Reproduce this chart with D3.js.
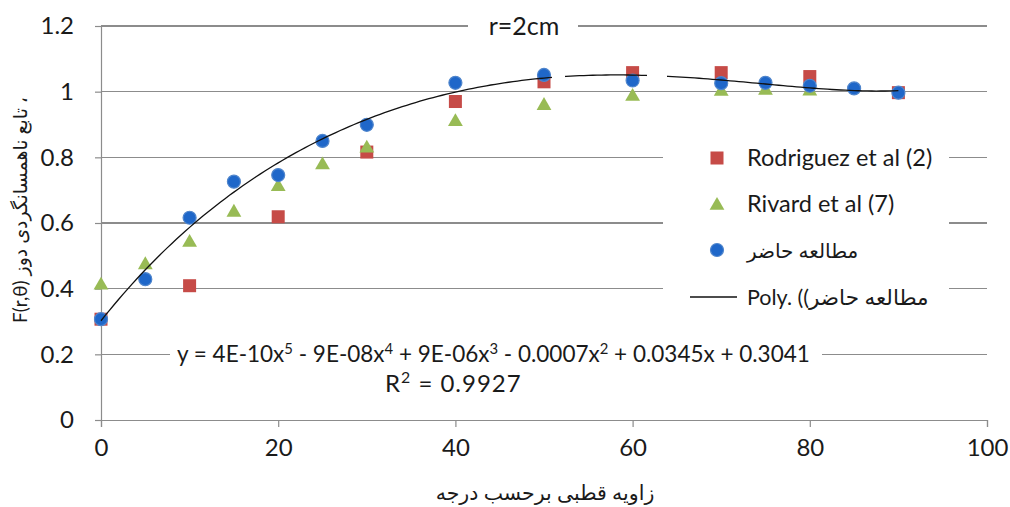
<!DOCTYPE html>
<html><head><meta charset="utf-8">
<script src="https://cdn.jsdelivr.net/npm/d3@7"></script>
<style>
html,body{margin:0;padding:0;background:#fff;}
svg{display:block;}
text{font-family:Lato,"DejaVu Sans",sans-serif;fill:#1a1a1a;}
</style></head>
<body><svg id="chart" width="1010" height="507"></svg>
<script>
// ---- data ----
const presentAngles = [0,5,10,15,20,25,30,40,50,60,70,75,80,85,90];
const presentValues = [0.307,0.429,0.616,0.726,0.746,0.85,0.899,1.027,1.051,1.034,1.026,1.027,1.018,1.010,0.997];
const rodriguezAngles = [0,10,20,30,40,50,60,70,80,90];
const rodriguezValues = [0.307,0.409,0.619,0.816,0.970,1.030,1.058,1.058,1.046,0.997];
const rivardAngles = [0,5,10,15,20,25,30,40,50,60,70,75,80];
const rivardValues = [0.415,0.477,0.545,0.637,0.715,0.781,0.832,0.913,0.962,0.99,1.005,1.008,1.006];
const xTicks = [0,20,40,60,80,100];
const yTicks = [0,0.2,0.4,0.6,0.8,1,1.2];
const yTickLabels = ["0","0.2","0.4","0.6","0.8","1","1.2"];
const seriesNames = ["Rodriguez et al (2)","Rivard et al (7)","مطالعه حاضر","Poly. ((مطالعه حاضر"];
const titleText = "r=2cm";
const xLabel = "زاویه قطبی  برحسب درجه";
const yLabel = "F(r,θ) تابع ناهمسانگردی دوز ،";
// equation pieces: [text, isSuperscript]
const eqParts = [["y = 4E-10x",0],["5",1],[" - 9E-08x",0],["4",1],[" + 9E-06x",0],["3",1],[" - 0.0007x",0],["2",1],[" + 0.0345x + 0.3041",0]];
const r2Parts = [["R",0],["2",1],[" = 0.9927",0]];

// ---- scales ----
const svg = d3.select("#chart");
const x = d3.scaleLinear().domain([0,100]).range([101,987]);
const y = d3.scaleLinear().domain([0,1.2]).range([420,26]);
const gridColor = "#8c8c8c";

// gridlines
svg.append("g").selectAll("line").data(yTicks.slice(1)).join("line")
  .attr("x1", x(0)).attr("x2", x(100))
  .attr("y1", d=>y(d)).attr("y2", d=>y(d))
  .attr("stroke", gridColor).attr("stroke-width",1.2).attr("shape-rendering","crispEdges");

// axes
const xAxis = svg.append("g").attr("transform",`translate(0,${y(0)})`)
  .call(d3.axisBottom(x).tickValues(xTicks).tickSize(7).tickPadding(12).tickFormat(d3.format("d")));
const yAxis = svg.append("g").attr("transform",`translate(${x(0)},0)`)
  .call(d3.axisLeft(y).tickValues(yTicks).tickSize(6).tickPadding(21).tickFormat((d,i)=>yTickLabels[i]));
[xAxis,yAxis].forEach(g=>{
  g.select(".domain").attr("stroke",gridColor).attr("stroke-width",1.2);
  g.selectAll(".tick line").attr("stroke",gridColor).attr("stroke-width",1.2);
  g.selectAll(".tick text").attr("font-family","Lato, sans-serif").attr("font-size",24).attr("fill","#1a1a1a");
});

// white label boxes (cover gridlines like chart text boxes)
function box(x0,y0,w,h){ svg.append("rect").attr("x",x0).attr("y",y0).attr("width",w).attr("height",h).attr("fill","#fff"); }
box(468,8,110,36);      // title
box(663,136,286,176);   // legend
box(170,336,652,66);    // equation

// polynomial fit (degree 5, least squares) of present study
function polyfit(xs, ys, deg){
  const s = 100;
  const n = deg+1;
  const A = Array.from({length:n},()=>new Array(n+1).fill(0));
  xs.forEach((xv,k)=>{
    const t = xv/s;
    for(let i=0;i<n;i++){
      for(let j=0;j<n;j++) A[i][j]+=Math.pow(t,i+j);
      A[i][n]+=Math.pow(t,i)*ys[k];
    }
  });
  for(let i=0;i<n;i++){
    let p=i; for(let r=i+1;r<n;r++) if(Math.abs(A[r][i])>Math.abs(A[p][i])) p=r;
    [A[i],A[p]]=[A[p],A[i]];
    for(let r=0;r<n;r++){ if(r===i) continue; const f=A[r][i]/A[i][i]; for(let c=i;c<=n;c++) A[r][c]-=f*A[i][c]; }
  }
  const coef = A.map((row,i)=>row[n]/row[i]);
  return xv=>{ const t=xv/s; let v=0; for(let i=n-1;i>=0;i--) v=v*t+coef[i]; return v; };
}
const fit = polyfit(presentAngles, presentValues, 5);

// markers
const red = {fill:"#c64b47"};
const green = {fill:"#98bb55"};
const blue = {fill:"#1f67c9", stroke:"#4f85cc"};

svg.append("g").selectAll("rect").data(rodriguezAngles.map((a,i)=>[a,rodriguezValues[i]])).join("rect")
  .attr("x",d=>x(d[0])-6.5).attr("y",d=>y(d[1])-6.5).attr("width",13).attr("height",13)
  .attr("fill",red.fill);
const tri = d3.symbol().type(d3.symbolTriangle).size(95);
svg.append("g").selectAll("path").data(rivardAngles.map((a,i)=>[a,rivardValues[i]])).join("path")
  .attr("d",tri).attr("transform",d=>`translate(${x(d[0])},${y(d[1])+1.5})`)
  .attr("fill",green.fill);
svg.append("g").selectAll("circle").data(presentAngles.map((a,i)=>[a,presentValues[i]])).join("circle")
  .attr("cx",d=>x(d[0])).attr("cy",d=>y(d[1])).attr("r",6.5)
  .attr("fill",blue.fill).attr("stroke",blue.stroke).attr("stroke-width",1.2);

// trendline
const trendX = d3.range(0,90.01,0.5);
svg.append("path").datum(trendX)
  .attr("d", d3.line().x(d=>x(d)).y(d=>y(fit(d))))
  .attr("fill","none").attr("stroke","#111").attr("stroke-width",1.3);
// small breaks in the trendline as seen in the original
box(552,68,13,12);
box(647,68,20,12);

// title
svg.append("text").attr("x",524).attr("y",35).attr("text-anchor","middle").attr("font-size",25).text(titleText);

// legend
const lg = svg.append("g");
const lx = 717, ltx = 747, lys = [158,204,250,297];
lg.append("rect").attr("x",lx-6.5).attr("y",lys[0]-6.5).attr("width",13).attr("height",13).attr("fill",red.fill);
lg.append("path").attr("d",tri).attr("transform",`translate(${lx},${lys[1]+1.5})`).attr("fill",green.fill);
lg.append("circle").attr("cx",lx).attr("cy",lys[2]).attr("r",6.5).attr("fill",blue.fill).attr("stroke",blue.stroke).attr("stroke-width",1.2);
lg.append("line").attr("x1",690).attr("x2",737).attr("y1",lys[3]).attr("y2",lys[3]).attr("stroke","#111").attr("stroke-width",1.3);
lg.selectAll("text").data(seriesNames).join("text")
  .attr("x",ltx).attr("y",(d,i)=>lys[i]+8)
  .attr("font-size",(d,i)=>i<2?23.5:(i===2?20:21.5)).text(d=>d);

// equation
function richText(parts, x0, y0, fs, ls){
  const t = svg.append("text").attr("x",x0).attr("y",y0).attr("font-size",fs).attr("letter-spacing",ls||0);
  t.selectAll("tspan").data(parts).join("tspan")
    .attr("font-size",d=>d[1]?fs*0.66:fs)
    .attr("dy",(d,i)=>{ if(d[1]) return -fs*0.36; return (i>0 && parts[i-1][1]) ? fs*0.36 : 0; })
    .text(d=>d[0]);
}
richText(eqParts,177,362,22.5,0);
richText(r2Parts,385,392,24,1);

// axis titles
svg.append("text").attr("x",545).attr("y",500).attr("text-anchor","middle").attr("font-family","DejaVu Sans").attr("font-size",20.5).text(xLabel);
svg.append("text").attr("transform","translate(27,210) rotate(-90)").attr("text-anchor","middle")
  .attr("font-family","DejaVu Sans").attr("font-size",19).text(yLabel);
</script></body></html>
